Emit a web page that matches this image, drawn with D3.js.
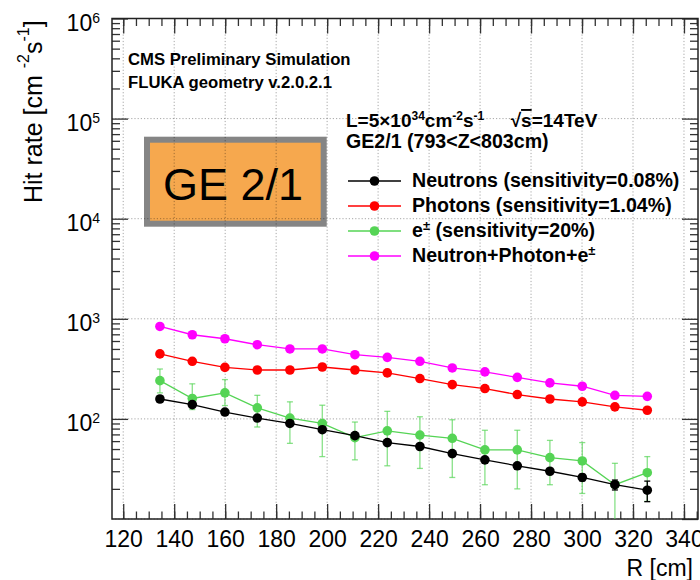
<!DOCTYPE html>
<html>
<head>
<meta charset="utf-8">
<script src="https://cdn.jsdelivr.net/npm/d3@7"></script>
<style>
  body { margin: 0; background: #fff; }
  text { font-family: "Liberation Sans", Arial, Helvetica, sans-serif; }
</style>
</head>
<body>
<svg id="chart" width="700" height="580"></svg>
<script>
// radial bin centres [cm]
const R = [134.4, 147.1, 159.9, 172.6, 185.4, 198.1, 210.9, 223.6,
           236.4, 249.1, 261.9, 274.6, 287.4, 300.1, 312.9, 325.6];
// hit rates [cm^-2 s^-1]
const neutrons = [158, 139, 117, 102, 90, 78, 68, 58, 53, 45, 39, 34, 30, 26, 22, 19.4];
const neutronsErr = [1, 1, 1, 1, 1, 1, 1, 1, 1, 1, 1, 1, 1, 2, 2.5, 4.5];
const photons = [446, 376, 327, 308, 308, 330, 308, 288, 253, 220, 201, 175, 158, 148, 132, 122];
const electrons = [241, 160, 182, 129, 102, 90, 65, 76, 69, 64, 49, 49, 41, 38, 22, 29];
const electronsLow = [182, 124, 136, 83, 57, 42, 39, 34, 32, 26, 22, 20, 22, 18, 5, 15];
const electronsHigh = [315, 224, 247, 172, 148, 137, 93, 119, 105, 98, 77, 77, 61, 58, 36, 42];
const total = [839, 693, 632, 551, 500, 500, 438, 412, 376, 323, 295, 260, 229, 212, 172, 168];

const xMajorTicks = [120, 140, 160, 180, 200, 220, 240, 260, 280, 300, 320, 340];
const xMinorTicks = d3.range(120, 346, 5);
const yDecades = [10, 100, 1e3, 1e4, 1e5, 1e6];
const yMinorTicks = yDecades.slice(0, -1).flatMap(d => d3.range(2, 10).map(k => k * d));

const legendLabels = [
  "Neutrons (sensitivity=0.08%)",
  "Photons (sensitivity=1.04%)",
  "e^{\u00b1} (sensitivity=20%)",
  "Neutron+Photon+e^{\u00b1}"
];
const seriesColors = ["#000000", "#ff0000", "#55d455", "#ff00ff"];

// frame of the pad
const frame = {left: 112, right: 698, top: 18.5, bottom: 519};

const svg = d3.select("#chart");

const x = d3.scaleLinear()
  .domain([115.6, 345.5])
  .range([frame.left, frame.right]);

const y = d3.scaleLog()
  .domain([10, 1e6])
  .range([frame.bottom, frame.top]);

// write "a^{b}c" strings as tspans with raised superscripts
function richText(sel, str, supSize, rise) {
  const parts = str.split(/(\^\{[^}]*\})/).filter(s => s.length);
  let up = false;
  parts.forEach(p => {
    const sup = p.startsWith("^{");
    const t = sel.append("tspan").text(sup ? p.slice(2, -1) : p);
    if (sup) {
      t.attr("font-size", supSize).attr("dy", up ? 0 : -rise);
      up = true;
    } else {
      t.attr("dy", up ? rise : 0);
      up = false;
    }
  });
}

svg.append("clipPath").attr("id", "plotclip")
  .append("rect")
  .attr("x", frame.left).attr("y", frame.top)
  .attr("width", frame.right - frame.left)
  .attr("height", frame.bottom - frame.top);

// GE 2/1 box (grid shows through it)
svg.append("rect")
  .attr("x", 147).attr("y", 139.7)
  .attr("width", 176.7).attr("height", 84)
  .attr("fill", "#f6a84e")
  .attr("stroke", "#858585")
  .attr("stroke-width", 6);

// dotted grid
const grid = svg.append("g")
  .attr("stroke", "#000")
  .attr("stroke-opacity", 0.35)
  .attr("stroke-dasharray", "1.2,2");
grid.selectAll(".gx").data(xMajorTicks).enter().append("line")
  .attr("x1", d => x(d)).attr("x2", d => x(d))
  .attr("y1", frame.top).attr("y2", frame.bottom);
grid.selectAll(".gy").data(yDecades).enter().append("line")
  .attr("y1", d => y(d)).attr("y2", d => y(d))
  .attr("x1", frame.left).attr("x2", frame.right);

svg.append("text")
  .attr("x", 233).attr("y", 200)
  .attr("text-anchor", "middle")
  .attr("font-size", 45)
  .text("GE 2/1");

function tidy(g) {
  g.select(".domain").remove();
  g.attr("color", "#333");
  g.selectAll(".tick line").attr("stroke-width", 1.3);
}

// bottom axis
svg.append("g")
  .attr("transform", `translate(0,${frame.bottom})`)
  .call(d3.axisBottom(x).tickValues(xMajorTicks).tickSize(-15).tickPadding(12))
  .call(tidy)
  .call(g => g.selectAll("text").attr("font-size", 23).attr("fill", "#000"));
svg.append("g")
  .attr("transform", `translate(0,${frame.bottom})`)
  .call(d3.axisBottom(x).tickValues(xMinorTicks).tickSize(-7.5).tickFormat(""))
  .call(tidy);

// top axis
svg.append("g")
  .attr("transform", `translate(0,${frame.top})`)
  .call(d3.axisTop(x).tickValues(xMajorTicks).tickSize(-15).tickFormat(""))
  .call(tidy);
svg.append("g")
  .attr("transform", `translate(0,${frame.top})`)
  .call(d3.axisTop(x).tickValues(xMinorTicks).tickSize(-7.5).tickFormat(""))
  .call(tidy);

// left axis with 10^n labels
svg.append("g")
  .attr("transform", `translate(${frame.left},0)`)
  .call(d3.axisLeft(y).tickValues(yDecades.slice(1)).tickSize(-16).tickPadding(12))
  .call(tidy)
  .call(g => g.selectAll(".tick text")
    .attr("font-size", 23).attr("fill", "#000").attr("dy", 12)
    .text("10")
    .append("tspan")
    .attr("font-size", 14).attr("dy", -8)
    .text(d => Math.round(Math.log10(d))));
svg.append("g")
  .attr("transform", `translate(${frame.left},0)`)
  .call(d3.axisLeft(y).tickValues(yMinorTicks).tickSize(-8).tickFormat(""))
  .call(tidy);

// right axis
svg.append("g")
  .attr("transform", `translate(${frame.right},0)`)
  .call(d3.axisRight(y).tickValues(yDecades).tickSize(-16).tickFormat(""))
  .call(tidy);
svg.append("g")
  .attr("transform", `translate(${frame.right},0)`)
  .call(d3.axisRight(y).tickValues(yMinorTicks).tickSize(-8).tickFormat(""))
  .call(tidy);

// frame
svg.append("rect")
  .attr("x", frame.left).attr("y", frame.top)
  .attr("width", frame.right - frame.left)
  .attr("height", frame.bottom - frame.top)
  .attr("fill", "none")
  .attr("stroke", "#222")
  .attr("stroke-width", 1.5);

// axis titles
svg.append("text")
  .attr("transform", "translate(42,203) rotate(-90)")
  .attr("font-size", 25)
  .call(t => richText(t, "Hit rate [cm ^{-2}s^{-1}]", 16, 13));

svg.append("text")
  .attr("x", 693).attr("y", 576)
  .attr("text-anchor", "end")
  .attr("font-size", 23)
  .text("R [cm]");

// series
const series = [
  {values: neutrons, lo: neutrons.map((v, i) => v - neutronsErr[i]), hi: neutrons.map((v, i) => v + neutronsErr[i])},
  {values: photons},
  {values: electrons, lo: electronsLow, hi: electronsHigh},
  {values: total}
];

const plot = svg.append("g").attr("clip-path", "url(#plotclip)");
const line = d3.line().x(d => x(d.r)).y(d => y(d.v));
const drawOrder = [2, 0, 1, 3];

drawOrder.forEach(k => {
  const s = series[k];
  const color = seriesColors[k];
  const pts = s.values.map((v, i) => ({r: R[i], v: v, lo: s.lo ? s.lo[i] : v, hi: s.hi ? s.hi[i] : v}));
  const g = plot.append("g");

  if (s.lo) {
    const eb = g.append("g")
      .attr("stroke", color)
      .attr("stroke-opacity", k === 2 ? 0.7 : 1)
      .attr("stroke-width", 1.3)
      .selectAll("g").data(pts).enter().append("g");
    eb.append("line")
      .attr("x1", d => x(d.r)).attr("x2", d => x(d.r))
      .attr("y1", d => y(d.lo)).attr("y2", d => y(d.hi));
    eb.append("line")
      .attr("x1", d => x(d.r) - 3).attr("x2", d => x(d.r) + 3)
      .attr("y1", d => y(d.lo)).attr("y2", d => y(d.lo));
    eb.append("line")
      .attr("x1", d => x(d.r) - 3).attr("x2", d => x(d.r) + 3)
      .attr("y1", d => y(d.hi)).attr("y2", d => y(d.hi));
  }

  g.append("path")
    .attr("fill", "none")
    .attr("stroke", color)
    .attr("stroke-width", 1.3)
    .attr("d", line(pts));

  g.selectAll("circle").data(pts).enter().append("circle")
    .attr("cx", d => x(d.r)).attr("cy", d => y(d.v))
    .attr("r", 4.8)
    .attr("fill", color);
});

// header texts
svg.append("text")
  .attr("x", 128).attr("y", 65)
  .attr("font-size", 16.7).attr("font-weight", "bold")
  .text("CMS Preliminary Simulation");
svg.append("text")
  .attr("x", 128).attr("y", 88)
  .attr("font-size", 16.7).attr("font-weight", "bold")
  .text("FLUKA geometry v.2.0.2.1");

const lumi = svg.append("text")
  .attr("x", 346).attr("y", 127)
  .attr("font-size", 19).attr("font-weight", "bold")
  .style("white-space", "pre")
  .call(t => richText(t, "L=5\u00d710^{34}cm^{-2}s^{-1}     \u221a", 12, 7));
lumi.append("tspan").attr("text-decoration", "overline").text("s");
lumi.append("tspan").text("=14TeV");

svg.append("text")
  .attr("x", 346).attr("y", 148)
  .attr("font-size", 19.6).attr("font-weight", "bold")
  .text("GE2/1 (793<Z<803cm)");

// legend
const leg = svg.append("g")
  .selectAll("g").data(legendLabels).enter().append("g")
  .attr("transform", (d, i) => `translate(0,${181 + i * 25})`);
leg.append("line")
  .attr("x1", 348).attr("x2", 401)
  .attr("stroke", (d, i) => seriesColors[i])
  .attr("stroke-width", 1.3);
leg.append("circle")
  .attr("cx", 374.5).attr("r", 4.8)
  .attr("fill", (d, i) => seriesColors[i]);
leg.append("text")
  .attr("x", 412).attr("y", 6)
  .attr("font-size", 19.6).attr("font-weight", "bold")
  .each(function(d) { richText(d3.select(this), d, 13, 7); });
</script>
</body>
</html>
